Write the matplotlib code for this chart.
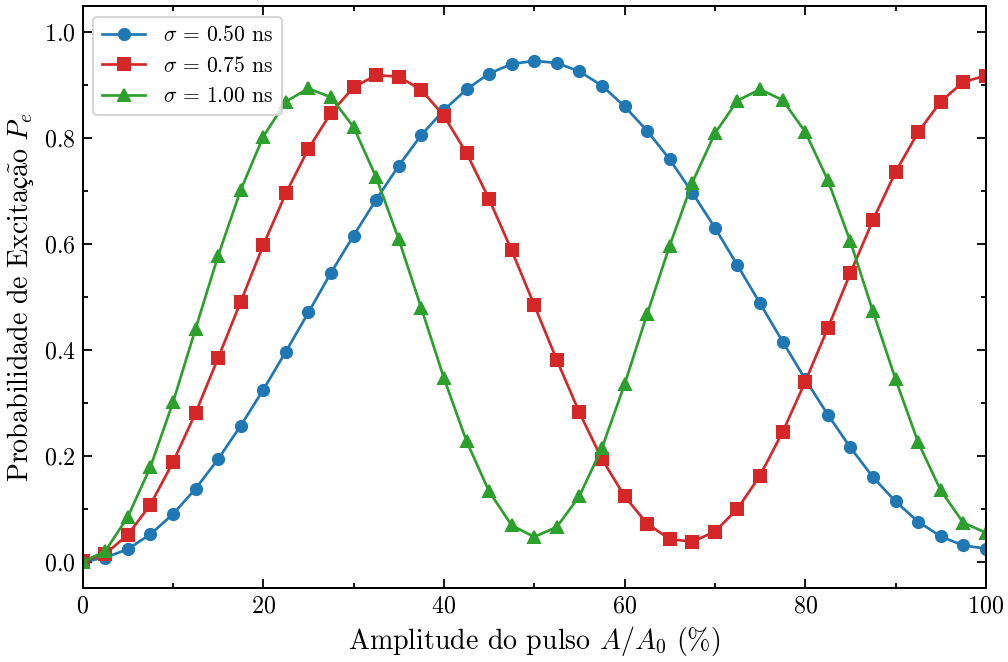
import matplotlib

matplotlib.use("Agg")
import matplotlib.pyplot as plt
from matplotlib.ticker import MultipleLocator

# amplitude (% of A0)
amp = [i * 2.5 for i in range(41)]

p_050 = [0.000, 0.008, 0.024, 0.052, 0.090, 0.138, 0.194, 0.257, 0.325, 0.397,
         0.471, 0.546, 0.616, 0.684, 0.748, 0.806, 0.853, 0.892, 0.922, 0.940,
         0.946, 0.942, 0.926, 0.899, 0.860, 0.814, 0.760, 0.697, 0.631, 0.560,
         0.488, 0.416, 0.345, 0.278, 0.216, 0.160, 0.114, 0.076, 0.048, 0.031,
         0.025]
p_075 = [0.001, 0.015, 0.051, 0.108, 0.188, 0.281, 0.385, 0.491, 0.598, 0.696,
         0.780, 0.848, 0.896, 0.919, 0.916, 0.891, 0.842, 0.772, 0.685, 0.588,
         0.485, 0.381, 0.282, 0.194, 0.124, 0.072, 0.043, 0.038, 0.057, 0.100,
         0.163, 0.245, 0.340, 0.441, 0.545, 0.645, 0.736, 0.811, 0.869, 0.906,
         0.918]
p_100 = [0.000, 0.020, 0.085, 0.179, 0.301, 0.440, 0.578, 0.702, 0.803, 0.869,
         0.894, 0.877, 0.821, 0.726, 0.609, 0.479, 0.347, 0.228, 0.133, 0.069,
         0.047, 0.066, 0.124, 0.215, 0.335, 0.468, 0.597, 0.716, 0.809, 0.871,
         0.892, 0.872, 0.812, 0.721, 0.605, 0.473, 0.345, 0.226, 0.135, 0.074,
         0.055]

series = [
    (p_050, r"$\sigma\,=\,0.50$ ns", "#1f77b4", "o"),
    (p_075, r"$\sigma\,=\,0.75$ ns", "#d62728", "s"),
    (p_100, r"$\sigma\,=\,1.00$ ns", "#2ca02c", "^"),
]

plt.rcParams["font.family"] = ["cmr10", "DejaVu Serif"]
plt.rcParams["mathtext.fontset"] = "cm"
plt.rcParams["axes.formatter.use_mathtext"] = True

fig = plt.figure(figsize=(7, 662 / 144), dpi=144)
ax = fig.add_axes([0.082, 0.1113, 0.896, 0.880])

for y, lbl, col, mk in series:
    ax.plot(amp, y, "-", marker=mk, color=col, lw=1.35, ms=5.6, label=lbl)

ax.set_xlim(0, 100)
ax.set_ylim(-0.05, 1.05)
ax.xaxis.set_major_locator(MultipleLocator(20))
ax.xaxis.set_minor_locator(MultipleLocator(10))
ax.yaxis.set_major_locator(MultipleLocator(0.2))
ax.yaxis.set_minor_locator(MultipleLocator(0.1))
ax.tick_params(which="both", direction="in", top=True, right=True, labelsize=12)
ax.tick_params(which="major", length=4.5, width=0.9)
ax.tick_params(which="minor", length=2.5, width=0.9)
for s in ax.spines.values():
    s.set_linewidth(1.0)

ax.set_xlabel(r"Amplitude do pulso $A/A_0$ (%)", fontsize=14)
# cmr10 has no ç / ã, so the label is set in mathtext (ç comes from the STIX fallback)
ax.set_ylabel(r"$\mathrm{Probabilidade\ de\ Excita}$"
              r"$\mathrm{ç\tilde{a}o}\ P_e$", fontsize=14)
ax.legend(loc="upper left", fontsize=10.8)

fig.savefig("out.png", dpi=144)
plt.close(fig)
